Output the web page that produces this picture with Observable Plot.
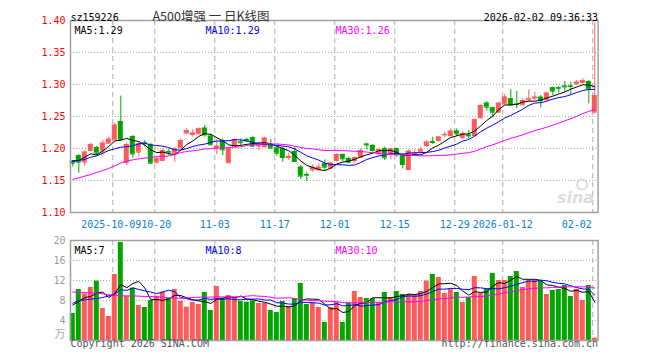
<!DOCTYPE html>
<html><head><meta charset="utf-8">
<script src="https://cdn.jsdelivr.net/npm/d3@7"></script>
<script src="https://cdn.jsdelivr.net/npm/@observablehq/plot@0.6"></script>
<style>
body{margin:0;background:#fff}
#wrap{position:relative;width:660px;height:360px;overflow:hidden;background:#fff}
#wrap svg{position:absolute;left:0;overflow:visible}
</style></head><body><div id="wrap"></div>
<script>
// ---------- data ----------
const dates = ("2025-09-22 2025-09-23 2025-09-24 2025-09-25 2025-09-26 2025-09-29 2025-09-30 " +
"2025-10-09 2025-10-10 2025-10-13 2025-10-14 2025-10-15 2025-10-16 2025-10-17 2025-10-20 2025-10-21 2025-10-22 2025-10-23 2025-10-24 2025-10-27 2025-10-28 2025-10-29 2025-10-30 2025-10-31 " +
"2025-11-03 2025-11-04 2025-11-05 2025-11-06 2025-11-07 2025-11-10 2025-11-11 2025-11-12 2025-11-13 2025-11-14 2025-11-17 2025-11-18 2025-11-19 2025-11-20 2025-11-21 2025-11-24 2025-11-25 2025-11-26 2025-11-27 2025-11-28 " +
"2025-12-01 2025-12-02 2025-12-03 2025-12-04 2025-12-05 2025-12-08 2025-12-09 2025-12-10 2025-12-11 2025-12-12 2025-12-15 2025-12-16 2025-12-17 2025-12-18 2025-12-19 2025-12-22 2025-12-23 2025-12-24 2025-12-25 2025-12-26 2025-12-29 2025-12-30 2025-12-31 " +
"2026-01-05 2026-01-06 2026-01-07 2026-01-08 2026-01-09 2026-01-12 2026-01-13 2026-01-14 2026-01-15 2026-01-16 2026-01-19 2026-01-20 2026-01-21 2026-01-22 2026-01-23 2026-01-26 2026-01-27 2026-01-28 2026-01-29 2026-01-30 " +
"2026-02-02").split(" ");

const opens = [1.1800,1.1891,1.1786,1.1969,1.2016,1.1958,1.2083,1.2135,1.2422,1.1780,
1.2188,1.1943,1.2085,1.2063,1.1786,1.1813,1.1950,1.1927,1.2010,1.2240,
1.2219,1.2229,1.2318,1.2193,1.2010,1.2115,1.1776,1.2036,1.2100,1.2141,
1.2167,1.2040,1.2031,1.2057,1.2005,1.1995,1.1859,1.1953,1.1708,1.1594,
1.1667,1.1667,1.1760,1.1693,1.1813,1.1906,1.1844,1.1813,1.1865,1.2068,
1.2047,1.1917,1.1995,1.1917,1.1995,1.1885,1.1672,1.1906,1.1958,1.2047,
1.2104,1.2125,1.2214,1.2203,1.2271,1.2167,1.2208,1.2203,1.2479,1.2708,
1.2635,1.2568,1.2698,1.2776,1.2693,1.2682,1.2760,1.2786,1.2802,1.2760,
1.2948,1.2948,1.2974,1.2974,1.3010,1.3031,1.3047,1.2568];
const highs = [1.1813,1.1901,1.1969,1.2083,1.2031,1.2125,1.2177,1.2396,1.2818,1.2083,
1.2203,1.2099,1.2125,1.2083,1.1865,1.1995,1.1995,1.2021,1.2151,1.2307,
1.2292,1.2323,1.2359,1.2229,1.2135,1.2151,1.2005,1.2151,1.2151,1.2161,
1.2193,1.2099,1.2177,1.2141,1.2021,1.2021,1.1927,1.2021,1.1734,1.1620,
1.1745,1.1760,1.1823,1.1786,1.1917,1.1917,1.1865,1.1875,1.1995,1.2083,
1.2063,1.1995,1.2021,1.2005,1.2005,1.1917,1.1979,1.1979,1.2021,1.2125,
1.2177,1.2188,1.2255,1.2307,1.2307,1.2266,1.2281,1.2464,1.2682,1.2734,
1.2646,1.2724,1.2844,1.2917,1.2891,1.2776,1.2917,1.2880,1.2828,1.2880,
1.2958,1.2969,1.3047,1.3036,1.3063,1.3089,1.3063,1.3958];
const lows = [1.1708,1.1615,1.1719,1.1943,1.1890,1.1906,1.2073,1.2125,1.2115,1.1734,
1.1849,1.1865,1.2021,1.1750,1.1760,1.1802,1.1890,1.1786,1.1995,1.2219,
1.2177,1.2219,1.2177,1.2047,1.1906,1.1890,1.1760,1.2021,1.2047,1.2099,
1.2021,1.1969,1.2005,1.1995,1.1880,1.1786,1.1813,1.1786,1.1516,1.1484,
1.1630,1.1656,1.1656,1.1682,1.1786,1.1786,1.1760,1.1760,1.1854,1.1979,
1.1943,1.1891,1.1813,1.1823,1.1865,1.1682,1.1656,1.1891,1.1917,1.2021,
1.2063,1.2099,1.2167,1.2177,1.2188,1.2146,1.2146,1.2193,1.2464,1.2583,
1.2479,1.2552,1.2688,1.2682,1.2620,1.2672,1.2724,1.2750,1.2635,1.2750,
1.2828,1.2865,1.2880,1.2828,1.2984,1.3010,1.2698,1.2542];
const closes = [1.1771,1.1786,1.1943,1.2063,1.1927,1.2083,1.2146,1.2365,1.2135,1.2060,
1.1917,1.2073,1.2075,1.1771,1.1839,1.1969,1.1943,1.1995,1.2125,1.2281,
1.2240,1.2307,1.2214,1.2057,1.2036,1.1979,1.1995,1.2141,1.2090,1.2120,
1.2036,1.2047,1.2161,1.2005,1.1927,1.1859,1.1875,1.1797,1.1568,1.1583,
1.1698,1.1708,1.1708,1.1771,1.1906,1.1839,1.1786,1.1854,1.1969,1.2057,
1.1969,1.1979,1.1854,1.1995,1.1901,1.1750,1.1958,1.1917,1.1979,1.2099,
1.2094,1.2177,1.2219,1.2271,1.2229,1.2229,1.2198,1.2448,1.2672,1.2646,
1.2568,1.2708,1.2802,1.2682,1.2688,1.2750,1.2776,1.2802,1.2750,1.2865,
1.2896,1.2943,1.2963,1.2969,1.3036,1.3063,1.2932,1.2828];
// volume, 万
const volumes = [5.4,10.2,9.33,10.6,11.87,6.4,4.8,13.2,19.6,8.8,
10.47,7.0,6.6,8.0,8.87,9.67,8.4,10.2,7.8,6.67,
7.6,7.2,9.6,6.0,10.8,8.47,9.0,8.4,7.8,7.67,
7.93,7.4,7.4,6.0,5.6,7.8,6.8,8.4,11.4,7.2,
7.53,6.6,3.6,6.6,7.6,3.6,7.53,9.8,8.6,8.4,
8.4,7.6,9.6,8.6,9.8,9.2,9.2,9.0,9.8,11.87,
13.2,12.6,9.4,10.2,9.6,7.6,8.6,12.8,9.4,10.2,
13.4,12.0,12.0,12.8,13.8,10.6,12.0,12.0,11.8,9.2,
10.0,10.2,11.0,8.8,10.2,8.0,11.0,0.47];

// moving-average values at the left edge (they depend on days before the window)
const ma5Head = [1.1807,1.1812,1.1865,1.1917];
const ma10Head = [1.1797,1.1813,1.1828,1.1865,1.1885,1.1927,1.1969,1.1995,1.2021];
const ma30Head = [1.1516,1.1542,1.1568,1.1594,1.1625,1.1656,1.1688,1.1729,1.1771,1.1802,
1.1823,1.1839,1.1849,1.1865,1.1870,1.1875,1.1885,1.1906,1.1937,1.1953,
1.1964,1.1974,1.1995,1.1995,1.2005,1.2010,1.2016,1.2021,1.2026];
const vma5Head = [7.1,7.8,8.6,8.8];
const vma10Head = [7.47,8.0,8.13,8.27,8.4,8.6,8.93,9.33,10.13];
const vma30Head = [9.67,9.67,9.6,9.53,9.47,9.33,9.13,9.0,8.93,8.93,
8.93,8.87,8.8,8.8,8.73,8.67,8.53,8.47,8.47,8.53,
8.6,8.67,8.67,8.67,8.73,8.73,8.73,8.73,8.73];

const tickDates = ["2025-10-09","2025-10-20","2025-11-03","2025-11-17","2025-12-01","2025-12-15","2025-12-29","2026-01-12","2026-02-02"];
const tickLabels = ["2025-10-09","10-20","11-03","11-17","12-01","12-15","12-29","2026-01-12","02-02"];
const priceTicks = [1.10,1.15,1.20,1.25,1.30,1.35,1.40];
const volTicks = [4,8,12,16,20];
const priceMaLabels = ["MA5:1.29","MA10:1.29","MA30:1.26"];
const volMaLabels = ["MA5:7","MA10:8","MA30:10"];
const code = "sz159226";
const title = "A500增强 一 日K线图";
const stamp = "2026-02-02 09:36:33";

// ---------- derived ----------
const UP = "#ff5a5a", DOWN = "#00a500";
const maColors = ["#000000","#0000ff","#ff00ff"];
const MONO = "'DejaVu Sans Mono', monospace";
const CJK = "'Noto Sans CJK SC', sans-serif";
const data = dates.map((d,i)=>({i, date:d, open:opens[i], high:highs[i], low:lows[i], close:closes[i], vol:volumes[i], up: closes[i] >= opens[i]}));
const upD = data.filter(d=>d.up), dnD = data.filter(d=>!d.up);
const ma = (vals,n,head)=>vals.map((v,i)=>({i, v: i < head.length ? head[i] : d3.mean(vals.slice(i-n+1,i+1))}));
const pMA = [ma(closes,5,ma5Head), ma(closes,10,ma10Head), ma(closes,30,ma30Head)];
const vMA = [ma(volumes,5,vma5Head), ma(volumes,10,vma10Head), ma(volumes,30,vma30Head)];
const tickShift = [-1.5,1.5,0,0,0,0,0,0,-1];
const ticks = tickDates.map((d,k)=>({pos: dates.indexOf(d) - 1/3, label: tickLabels[k], shift: tickShift[k]}));
const hw = 2.5/6;

const xOpt = {domain:[-0.383, 87.55]};
const common = {width:660, marginLeft:70, marginRight:62.4, x:{...xOpt, axis:null},
  style:{fontFamily:MONO, fontSize:"10px", background:"transparent", overflow:"visible"}};
const legendDx = [4,135,265];

const candleMarks = (d, color) => [
  Plot.ruleX(d, {x:"i", y1:"low", y2:"high", stroke:color, strokeWidth:1}),
  Plot.rect(d, {x1:e=>e.i-hw, x2:e=>e.i+hw, y1:"open", y2:"close", fill:color}),
  Plot.ruleY(d, {x1:e=>e.i-hw, x2:e=>e.i+hw, y:"close", stroke:color}),
  Plot.ruleY(d, {x1:e=>e.i-hw, x2:e=>e.i+hw, y:"open", stroke:color})
];

const main = Plot.plot({
  ...common, height:235, marginTop:20, marginBottom:23,
  y:{domain:[1.10,1.40], axis:null},
  marks:[
    Plot.ruleY(priceTicks.slice(1,-1), {stroke:"#aaa", strokeDasharray:"1,2"}),
    Plot.ruleX(ticks, {x:"pos", stroke:"#aaa", strokeDasharray:"5,4"}),
    Plot.text(["sina"], {frameAnchor:"bottom-right", dx:-4, dy:-10, textAnchor:"end", fill:"#dcdcdc", fontSize:16, fontWeight:"bold", fontStyle:"italic", fontFamily:"'DejaVu Sans', sans-serif"}),
    Plot.dot([0], {frameAnchor:"bottom-right", dx:-16, dy:-28, r:5, stroke:"#dcdcdc", strokeWidth:2}),
    ...candleMarks(upD, UP),
    ...candleMarks(dnD, DOWN),
    ...pMA.map((m,k)=>Plot.line(m, {x:"i", y:"v", stroke:maColors[k], strokeWidth:1})),
    Plot.frame({stroke:"#a0a0a0", strokeWidth:1.5}),
    Plot.text(priceTicks, {y:d=>d, frameAnchor:"left", dx:-5, textAnchor:"end", text:d=>d.toFixed(2), fill:"#ff0000"}),
    ...ticks.map((t,k)=>Plot.text([t], {x:"pos", frameAnchor:"bottom", dy:15, dx:t.shift, text:"label",
      textAnchor: k===ticks.length-1 ? "end" : "middle", fill:"#0a7fd0"})),
    ...priceMaLabels.map((t,k)=>Plot.text([t], {frameAnchor:"top-left", dx:legendDx[k], dy:6, textAnchor:"start", fill:maColors[k]})),
    Plot.text([code], {frameAnchor:"top-left", dy:-7, textAnchor:"start", fill:"#000"}),
    Plot.text([title], {frameAnchor:"top-left", dx:82, dy:-8.5, textAnchor:"start", fill:"#333", fontFamily:CJK, fontSize:12.5}),
    Plot.text([stamp], {frameAnchor:"top-right", dy:-7, textAnchor:"end", fill:"#000"})
  ]
});
main.style.top = "0px";

const vol = Plot.plot({
  ...common, height:130, marginTop:10, marginBottom:20,
  y:{domain:[0,20], axis:null},
  marks:[
    Plot.ruleY(volTicks.slice(0,-1), {stroke:"#aaa", strokeDasharray:"1,2"}),
    Plot.ruleX(ticks, {x:"pos", stroke:"#aaa", strokeDasharray:"5,4"}),
    Plot.rectY(upD, {x1:e=>e.i-hw, x2:e=>e.i+hw, y:"vol", fill:UP}),
    Plot.rectY(dnD, {x1:e=>e.i-hw, x2:e=>e.i+hw, y:"vol", fill:DOWN}),
    ...vMA.map((m,k)=>Plot.line(m, {x:"i", y:"v", stroke:maColors[k], strokeWidth:1})),
    Plot.frame({stroke:"#a0a0a0", strokeWidth:1.5}),
    Plot.text(volTicks, {y:d=>d, frameAnchor:"left", dx:-5, textAnchor:"end", text:d=>String(d), fill:"#999"}),
    Plot.text(["万"], {frameAnchor:"bottom-left", dx:-5, dy:-3, textAnchor:"end", fill:"#aaa", fontFamily:CJK, fontSize:11}),
    ...volMaLabels.map((t,k)=>Plot.text([t], {frameAnchor:"top-left", dx:legendDx[k], dy:6, textAnchor:"start", fill:maColors[k]})),
    Plot.text(["Copyright 2026 SINA.COM"], {frameAnchor:"bottom-left", dy:6, textAnchor:"start", fill:"#555"}),
    Plot.text(["http://finance.sina.com.cn"], {frameAnchor:"bottom-right", dy:6, textAnchor:"end", fill:"#555"})
  ]
});
vol.style.top = "230px";

const wrap = document.getElementById("wrap");
wrap.appendChild(main);
wrap.appendChild(vol);
</script></body></html>
